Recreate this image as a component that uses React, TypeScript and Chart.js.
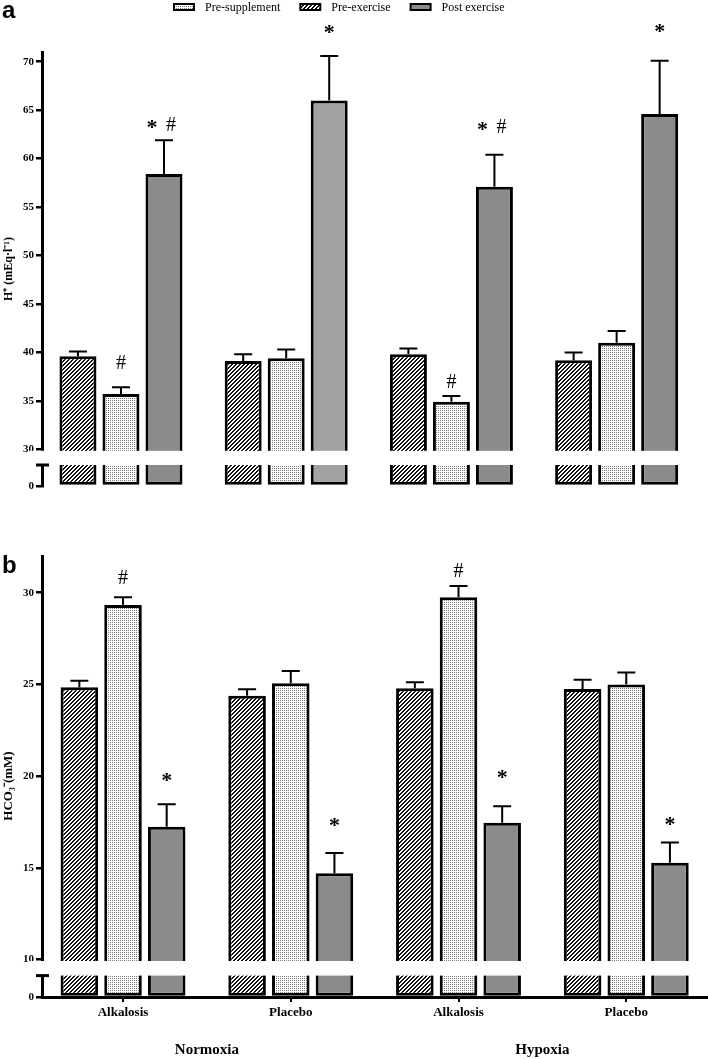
import React, { useEffect, useRef } from "react";
import { Chart, registerables, LinearScale } from "chart.js";

Chart.register(...registerables);

// ---------- data ----------
const categories = ["Alkalosis", "Placebo", "Alkalosis", "Placebo"];
const groups = ["Normoxia", "Hypoxia"];
const seriesLabels = ["Pre-supplement", "Pre-exercise", "Post exercise"];

// Panel a: H+ (mEq·l-1)
const hTicks = [0, 30, 35, 40, 45, 50, 55, 60, 65, 70];
const hPreSupplement = [39.6, 39.1, 39.8, 39.2];
const hPreSupplementErr = [0.5, 0.7, 0.6, 0.8];
const hPreExercise = [35.7, 39.4, 34.9, 41.0];
const hPreExerciseErr = [0.7, 0.9, 0.6, 1.2];
const hPostExercise = [58.4, 66.0, 57.1, 64.6];
const hPostExerciseErr = [3.5, 4.6, 3.3, 5.5];
const hPreSupplementMarks = ["", "", "", ""];
const hPreExerciseMarks = ["#", "", "#", ""];
const hPostExerciseMarks = ["*#", "*", "*#", "*"];
const hPreSupplementMarkAt = [0, 0, 0, 0];
const hPreExerciseMarkAt = [38.85, 0, 36.9, 0];
const hPostExerciseMarkAt = [63.4, 73.2, 63.2, 73.3];

// Panel b: HCO3- (mM)
const bTicks = [0, 10, 15, 20, 25, 30];
const bPreSupplement = [24.84, 24.38, 24.79, 24.75];
const bPreSupplementErr = [0.36, 0.35, 0.32, 0.5];
const bPreExercise = [29.33, 25.06, 29.75, 25.0];
const bPreExerciseErr = [0.42, 0.67, 0.62, 0.65];
const bPostExercise = [17.24, 14.7, 17.45, 15.28];
const bPostExerciseErr = [1.22, 1.1, 0.9, 1.1];
const bPreSupplementMarks = ["", "", "", ""];
const bPreExerciseMarks = ["#", "", "#", ""];
const bPostExerciseMarks = ["*", "*", "*", "*"];
const bPreSupplementMarkAt = [0, 0, 0, 0];
const bPreExerciseMarkAt = [30.75, 0, 31.15, 0];
const bPostExerciseMarkAt = [19.9, 17.45, 20.05, 17.5];

// ---------- styles ----------
const SERIF = "'Liberation Serif', 'Times New Roman', serif";
const SANS = "'Liberation Sans', Arial, sans-serif";

// A linear scale with a break: [0, lowerCap] drawn in a short bottom segment,
// [upperMin, max] drawn above a white gap.
function makeBrokenScale(id: string, upperMin: number, lowerCap: number, lowSegPx: number, gapPx: number) {
  class BrokenLinear extends (LinearScale as any) {
    static id = id;
    static defaults = (LinearScale as any).defaults;
    getPixelForValue(value: any) {
      if (value === null || value === undefined || isNaN(value)) return NaN;
      const bottom = this.bottom;
      const top = this.top;
      const capPx = bottom - lowSegPx;
      const upBottom = capPx - gapPx;
      if (value <= lowerCap) return bottom - (value / lowerCap) * lowSegPx;
      if (value >= upperMin)
        return upBottom - ((value - upperMin) / (this.max - upperMin)) * (upBottom - top);
      return capPx - ((value - lowerCap) / (upperMin - lowerCap)) * gapPx;
    }
    getValueForPixel(pixel: number) {
      const bottom = this.bottom;
      const top = this.top;
      const capPx = bottom - lowSegPx;
      const upBottom = capPx - gapPx;
      if (pixel >= capPx) return ((bottom - pixel) / lowSegPx) * lowerCap;
      if (pixel <= upBottom)
        return upperMin + ((upBottom - pixel) / (upBottom - top)) * (this.max - upperMin);
      return lowerCap + ((capPx - pixel) / gapPx) * (upperMin - lowerCap);
    }
  }
  Chart.register(BrokenLinear as any);
}

function makeHatch(): CanvasPattern | string {
  const c = document.createElement("canvas");
  c.width = 4;
  c.height = 4;
  const g = c.getContext("2d");
  if (!g) return "#777";
  g.fillStyle = "#fff";
  g.fillRect(0, 0, 4, 4);
  g.fillStyle = "#111";
  for (let i = 0; i < 4; i++) {
    g.fillRect(i, 3 - i, 1, 1);
    g.fillRect(i, (4 - i) % 4, 1, 1);
  }
  return g.createPattern(c, "repeat") || "#777";
}

function makeDots(): CanvasPattern | string {
  const c = document.createElement("canvas");
  c.width = 2;
  c.height = 2;
  const g = c.getContext("2d");
  if (!g) return "#ddd";
  g.fillStyle = "#fff";
  g.fillRect(0, 0, 2, 2);
  g.fillStyle = "#7a7a7a";
  g.fillRect(0, 0, 1, 1);
  return g.createPattern(c, "repeat") || "#ddd";
}

type Panel = {
  scaleId: string;
  letter: string;
  letterY: number;
  title: string;
  titleY: number;
  titleSize: number;
  ticks: number[];
  values: number[][];
  errors: number[][];
  marks: string[][];
  markAt: number[][];
  min: number;
  max: number;
  lowerCap: number;
  lowSegPx: number;
  gapPx: number;
  xMin: number;
  xMax: number;
  padTop: number;
  padBottom: number;
  showX: boolean;
  xHeight: number;
  legend: boolean;
  postColors: string[];
};

const panelA: Panel = {
  scaleId: "brokenA",
  letter: "a",
  letterY: 18,
  title: "H\u207A (mEq\u00B7l\u207B\u00B9)",
  titleY: 269,
  titleSize: 12,
  ticks: hTicks,
  values: [hPreSupplement, hPreExercise, hPostExercise],
  errors: [hPreSupplementErr, hPreExerciseErr, hPostExerciseErr],
  marks: [hPreSupplementMarks, hPreExerciseMarks, hPostExerciseMarks],
  markAt: [hPreSupplementMarkAt, hPreExerciseMarkAt, hPostExerciseMarkAt],
  min: 30,
  max: 71,
  lowerCap: 2,
  lowSegPx: 21,
  gapPx: 15.7,
  xMin: -0.478,
  xMax: 3.553,
  padTop: 52,
  padBottom: 14,
  showX: false,
  xHeight: 0,
  legend: true,
  postColors: ["#8b8b8b", "#a2a2a2", "#8b8b8b", "#8b8b8b"],
};

const panelB: Panel = {
  scaleId: "brokenB",
  letter: "b",
  letterY: 63,
  title: "HCO\u2083\u207B(mM)",
  titleY: 276,
  titleSize: 13,
  ticks: bTicks,
  values: [bPreSupplement, bPreExercise, bPostExercise],
  errors: [bPreSupplementErr, bPreExerciseErr, bPostExerciseErr],
  marks: [bPreSupplementMarks, bPreExerciseMarks, bPostExerciseMarks],
  markAt: [bPreSupplementMarkAt, bPreExerciseMarkAt, bPostExerciseMarkAt],
  min: 10,
  max: 32,
  lowerCap: 2,
  lowSegPx: 21.4,
  gapPx: 16.1,
  xMin: -0.483,
  xMax: 3.535,
  padTop: 46,
  padBottom: 0,
  showX: true,
  xHeight: 62,
  legend: false,
  postColors: ["#8b8b8b", "#8b8b8b", "#8b8b8b", "#8b8b8b"],
};

makeBrokenScale(panelA.scaleId, panelA.min, panelA.lowerCap, panelA.lowSegPx, panelA.gapPx);
makeBrokenScale(panelB.scaleId, panelB.min, panelB.lowerCap, panelB.lowSegPx, panelB.gapPx);

function drawMark(ctx: CanvasRenderingContext2D, text: string, x: number, y: number) {
  ctx.fillStyle = "#000";
  ctx.textAlign = "center";
  ctx.textBaseline = "middle";
  if (text.includes("*") && text.includes("#")) {
    ctx.font = `bold 22px ${SERIF}`;
    ctx.fillText("*", x - 12, y + 3);
    ctx.font = `20px ${SERIF}`;
    ctx.fillText("#", x + 7, y);
  } else if (text === "*") {
    ctx.font = `bold 22px ${SERIF}`;
    ctx.fillText("*", x, y + 3);
  } else {
    ctx.font = `20px ${SERIF}`;
    ctx.fillText(text, x, y);
  }
}

function buildChart(canvas: HTMLCanvasElement, p: Panel): Chart {
  const hatch = makeHatch();
  const dots = makeDots();
  const fills: any[] = [hatch, dots, p.postColors];
  const legendFills: any[] = [dots, hatch, "#8b8b8b"];

  const datasets = [0, 1, 2].map((k) => ({
    label: seriesLabels[k],
    data: p.values[k].map((v, i) => ({ x: i, y: v })),
    backgroundColor: fills[k],
    borderColor: "#000",
    borderWidth: 3,
    borderSkipped: false,
    categoryPercentage: 0.781,
    barPercentage: 0.86,
  }));

  const decor = {
    id: "decor",
    afterDatasetsDraw(chart: any) {
      const ctx: CanvasRenderingContext2D = chart.ctx;
      const y = chart.scales.y;
      const x = chart.scales.x;
      const axisX = chart.chartArea.left;

      // break in the y axis and in the bars
      const upBottom = y.getPixelForValue(p.min);
      const capY = y.getPixelForValue(p.lowerCap);
      ctx.save();
      ctx.fillStyle = "#fff";
      ctx.fillRect(axisX - 12, upBottom + 1.5, chart.width, capY - upBottom - 1.5);
      ctx.strokeStyle = "#000";
      ctx.lineWidth = 3;
      ctx.beginPath();
      ctx.moveTo(axisX - 6, capY);
      ctx.lineTo(axisX + 7, capY);
      ctx.stroke();
      ctx.restore();

      // error bars and significance marks
      for (let d = 0; d < 3; d++) {
        const meta = chart.getDatasetMeta(d);
        meta.data.forEach((bar: any, i: number) => {
          const v = p.values[d][i];
          const e = p.errors[d][i];
          const bx = bar.x;
          const y0 = y.getPixelForValue(v);
          const y1 = y.getPixelForValue(v + e);
          ctx.save();
          ctx.strokeStyle = "#000";
          ctx.lineWidth = 2;
          ctx.beginPath();
          ctx.moveTo(bx, y0);
          ctx.lineTo(bx, y1);
          ctx.moveTo(bx - 9, y1);
          ctx.lineTo(bx + 9, y1);
          ctx.stroke();
          const m = p.marks[d][i];
          if (m) drawMark(ctx, m, bx, y.getPixelForValue(p.markAt[d][i]));
          ctx.restore();
        });
      }

      // axis title
      ctx.save();
      ctx.fillStyle = "#000";
      ctx.font = `bold ${p.titleSize}px ${SERIF}`;
      ctx.textAlign = "center";
      ctx.textBaseline = "middle";
      ctx.translate(9, p.titleY);
      ctx.rotate(-Math.PI / 2);
      ctx.fillText(p.title, 0, 0);
      ctx.restore();

      // panel letter
      ctx.save();
      ctx.fillStyle = "#000";
      ctx.font = `bold 24px ${SANS}`;
      ctx.textAlign = "left";
      ctx.textBaseline = "alphabetic";
      ctx.fillText(p.letter, 2, p.letterY);
      ctx.restore();

      // group labels under the x axis
      if (p.showX) {
        ctx.save();
        ctx.fillStyle = "#000";
        ctx.font = `bold 15px ${SERIF}`;
        ctx.textAlign = "center";
        ctx.textBaseline = "middle";
        groups.forEach((g, gi) => {
          const cx = x.getPixelForValue(gi * 2 + 0.5);
          ctx.fillText(g, cx, chart.height - 9);
        });
        ctx.restore();
      }

      // legend
      if (p.legend) {
        ctx.save();
        ctx.font = `12px ${SERIF}`;
        ctx.textAlign = "left";
        ctx.textBaseline = "middle";
        let lx = 173;
        for (let k = 0; k < 3; k++) {
          ctx.fillStyle = "#000";
          ctx.fillRect(lx, 3, 22, 8);
          ctx.fillStyle = legendFills[k];
          ctx.fillRect(lx + 2, 5, 18, 4);
          ctx.fillStyle = "#000";
          const label = chart.data.datasets[k].label;
          ctx.fillText(label, lx + 32, 7.5);
          lx += 32 + ctx.measureText(label).width + 19;
        }
        ctx.restore();
      }
    },
  };

  return new Chart(canvas, {
    type: "bar",
    data: { datasets: datasets as any },
    options: {
      responsive: false,
      animation: false,
      layout: { padding: { top: p.padTop, bottom: p.padBottom, left: 0, right: 0 } },
      plugins: {
        legend: { display: false },
        tooltip: { enabled: false },
        title: { display: false },
      },
      scales: {
        x: {
          type: "linear",
          min: p.xMin,
          max: p.xMax,
          display: p.showX,
          offset: false,
          afterBuildTicks: (s: any) => {
            s.ticks = categories.map((_, i) => ({ value: i }));
          },
          afterFit: (s: any) => {
            s.height = p.xHeight;
          },
          ticks: {
            autoSkip: false,
            maxRotation: 0,
            callback: (v: any) => categories[v as number] ?? "",
            font: { family: SERIF, weight: "bold", size: 13 },
            color: "#000",
            padding: 3,
          },
          grid: {
            offset: false,
            drawOnChartArea: false,
            drawTicks: true,
            tickLength: 5,
            color: "#000",
            lineWidth: 2,
          },
          border: { display: true, color: "#000", width: 3 },
        },
        y: {
          type: p.scaleId,
          position: "left",
          min: 0,
          max: p.max,
          afterBuildTicks: (s: any) => {
            s.ticks = p.ticks.map((t) => ({ value: t }));
          },
          afterFit: (s: any) => {
            s.width = 42;
          },
          ticks: {
            font: { family: SERIF, weight: "bold", size: 11 },
            color: "#000",
            padding: 2,
          },
          grid: {
            drawOnChartArea: false,
            drawTicks: true,
            tickLength: 6,
            color: "#000",
            lineWidth: 2.5,
          },
          border: { display: true, color: "#000", width: 3 },
        },
      } as any,
    },
    plugins: [decor],
  });
}

export default function App() {
  const refA = useRef<HTMLCanvasElement>(null);
  const refB = useRef<HTMLCanvasElement>(null);

  useEffect(() => {
    document.body.style.margin = "0";
    const charts: Chart[] = [];
    if (refA.current) charts.push(buildChart(refA.current, panelA));
    if (refB.current) charts.push(buildChart(refB.current, panelB));
    return () => charts.forEach((c) => c.destroy());
  }, []);

  return (
    <div
      style={{
        position: "relative",
        width: 708,
        height: 1059,
        overflow: "hidden",
        background: "#fff",
      }}
    >
      <canvas
        ref={refA}
        width={708}
        height={500}
        style={{ position: "absolute", left: 0, top: 0, display: "block" }}
      />
      <canvas
        ref={refB}
        width={716}
        height={549}
        style={{ position: "absolute", left: 0, top: 510, display: "block" }}
      />
    </div>
  );
}
